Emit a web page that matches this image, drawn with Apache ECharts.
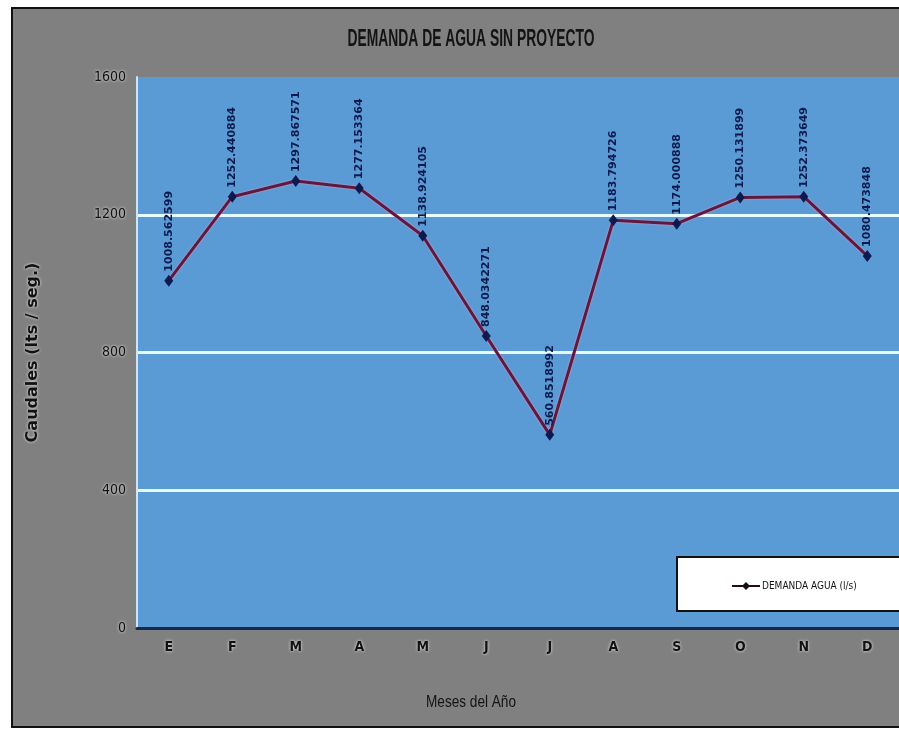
<!DOCTYPE html>
<html>
<head>
<meta charset="utf-8">
<script src="https://cdn.jsdelivr.net/npm/echarts@6/dist/echarts.min.js"></script>
<style>
  html, body { margin: 0; padding: 0; background: #ffffff; }
  #chart { width: 899px; height: 733px; }
</style>
</head>
<body>
<div id="chart"></div>
<script>
// Monthly water demand without project (l/s)
const months = ['E', 'F', 'M', 'A', 'M', 'J', 'J', 'A', 'S', 'O', 'N', 'D'];
const demanda = [1008.562599, 1252.440884, 1297.867571, 1277.153364, 1138.924105, 848.0342271,
                 560.8518992, 1183.794726, 1174.000888, 1250.131899, 1252.373649, 1080.473848];
const yTicks = [0, 400, 800, 1200, 1600];

const chartTitle = 'DEMANDA DE AGUA SIN PROYECTO';
const xTitle = 'Meses del Año';
const yTitle = 'Caudales (lts / seg.)';
const seriesName = 'DEMANDA AGUA (l/s)';

const NARROW = "'Liberation Sans Narrow', 'DejaVu Sans Condensed', Arial, sans-serif";
const glow = { textShadowColor: 'rgba(255,255,255,0.9)', textShadowBlur: 3 };

// Horizontal squeeze factor so a tall font fits a narrow, condensed look
function squeeze(text, font, targetWidth) {
  const ctx = document.createElement('canvas').getContext('2d');
  ctx.font = font;
  return targetWidth / ctx.measureText(text).width;
}
const titleFont = 'bold 23px "Liberation Sans", Arial, sans-serif';
const xTitleFont = '17px "Liberation Sans", Arial, sans-serif';

const chart = echarts.init(document.getElementById('chart'), null, { renderer: 'canvas' });

chart.setOption({
  animation: false,
  backgroundColor: '#ffffff',
  graphic: [
    {
      type: 'rect', z: -10,
      shape: { x: 12, y: 8, width: 900, height: 719 },
      style: { fill: '#808080', stroke: '#111111', lineWidth: 2 }
    },
    {
      type: 'text', z: 10,
      x: 471, y: 40, scaleX: squeeze(chartTitle, titleFont, 247),
      style: {
        x: 0, y: 0, text: chartTitle,
        align: 'center', verticalAlign: 'middle',
        font: titleFont, fill: '#141414',
        shadowColor: 'rgba(255,255,255,0.7)', shadowBlur: 3
      }
    },
    {
      type: 'text', z: 10,
      x: 471, y: 702, scaleX: squeeze(xTitle, xTitleFont, 90),
      style: {
        x: 0, y: 0, text: xTitle,
        align: 'center', verticalAlign: 'middle',
        font: xTitleFont, fill: '#141414',
        shadowColor: 'rgba(255,255,255,0.7)', shadowBlur: 3
      }
    },
    {
      type: 'rect', z: 20,
      shape: { x: 677, y: 557, width: 240, height: 54 },
      style: { fill: '#ffffff', stroke: '#111111', lineWidth: 2 }
    }
  ],
  grid: {
    left: 137, top: 77, width: 772, height: 551,
    show: true, backgroundColor: '#5b9bd5', borderWidth: 0
  },
  legend: {
    left: 726, top: 576, z: 30,
    itemWidth: 28, itemHeight: 10, itemGap: 4,
    textStyle: { fontFamily: NARROW, fontSize: 10, color: '#111111', padding: [0, 0, 0, -3] },
    data: [{
      name: seriesName,
      itemStyle: { color: '#111111' },
      lineStyle: { color: '#2a0a1a', width: 2 }
    }]
  },
  xAxis: {
    type: 'category',
    data: months,
    boundaryGap: true,
    axisLine: { lineStyle: { color: '#142a4a', width: 3 } },
    axisTick: { alignWithLabel: true, length: 4, lineStyle: { color: '#142a4a', width: 2 } },
    axisLabel: Object.assign({ fontFamily: NARROW, fontSize: 14, fontWeight: 'bold', color: '#111111', margin: 12 }, glow)
  },
  yAxis: {
    type: 'value',
    min: 0, max: 1600, interval: 400,
    name: yTitle,
    nameLocation: 'middle', nameGap: 96,
    nameTextStyle: Object.assign({ fontFamily: 'DejaVu Sans, sans-serif', fontSize: 16, fontWeight: 'bold', color: '#111111' }, glow),
    axisLine: { show: true, lineStyle: { color: '#cfe6f6', width: 2 } },
    axisTick: { show: false },
    axisLabel: Object.assign({
      fontFamily: NARROW, fontSize: 14, color: '#111111', margin: 11,
      formatter: function (v) { return yTicks.indexOf(v) >= 0 ? String(v) : ''; }
    }, glow),
    splitLine: {
      show: true,
      lineStyle: { color: ['rgba(0,0,0,0)', '#e4fbff', '#e4fbff', '#e4fbff', 'rgba(0,0,0,0)'], width: 3 }
    }
  },
  series: [{
    name: seriesName,
    type: 'line',
    data: demanda,
    symbol: 'diamond',
    symbolSize: [9, 12],
    itemStyle: { color: '#0d1a52' },
    lineStyle: {
      color: '#5e1a3e', width: 3,
      shadowColor: 'rgba(255,150,200,0.9)', shadowBlur: 2
    },
    label: {
      show: true,
      position: 'top',
      distance: 3,
      rotate: 90,
      align: 'left',
      verticalAlign: 'middle',
      fontFamily: 'DejaVu Sans, sans-serif',
      fontWeight: 'bold',
      fontSize: 11,
      color: '#0b1a4c',
      formatter: function (p) { return String(demanda[p.dataIndex]); }
    },
    z: 5
  }]
});
</script>
</body>
</html>
